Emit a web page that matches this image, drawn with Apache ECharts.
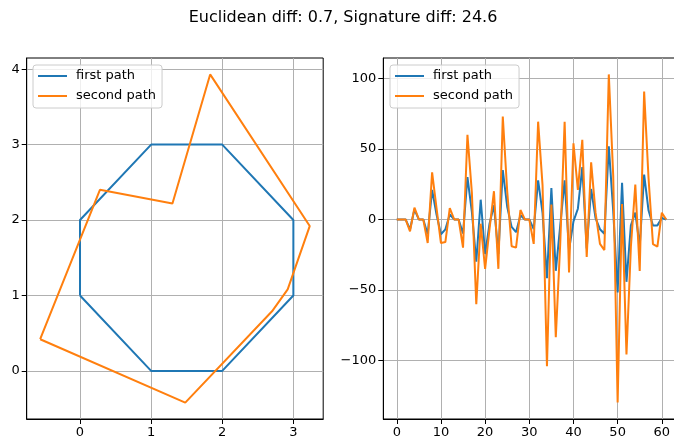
<!DOCTYPE html>
<html>
<head>
<meta charset="utf-8">
<script src="https://cdn.jsdelivr.net/npm/echarts@6/dist/echarts.min.js"></script>
<style>
  html, body { margin: 0; padding: 0; background: #ffffff; }
  #chart { width: 674px; height: 440px; }
</style>
</head>
<body>
<div id="chart"></div>
<script>
// Two closed planar paths: a regular octagon and a perturbed copy of it.
const firstPathX  = [0, 0, 1, 2, 3, 3, 2, 1, 0];
const firstPathY  = [1, 2, 3, 3, 2, 1, 0, 0, 1];
const secondPathX = [-0.56, 0.28, 1.30, 1.83, 3.23, 2.92, 2.70, 1.48, -0.56];
const secondPathY = [0.42, 2.40, 2.22, 3.93, 1.92, 1.08, 0.79, -0.42, 0.42];

// Truncated signature terms (levels 1-5) of each path, in word order.
const sigFirst = [
  0, 0, 0, -7, 7, 0,
  0, -10.5, 21, 3.5, -10.5, -7, 3.5, 0,
  0, -10, 30, 5.3, -30, 14, -24.5, -3, 10, -24.5, 35, 9, -5.3, -9, 3, 0,
  0, -6.9, 27.7, 4.7, -41.6, 22.3, -36.4, -4.5, 27.7, -21.6, -1.4, 7.6, 37.1, -20.6, 21.6, 1,
  -6.9, -10.1, 51.8, 6, -51.7, 25.9, -44.2, -4.2, 4.9, -18.9, 31.8, 6.3, -4.3, -4.2, 1, 0
];
const sigSecond = [
  0, 0, 0, -8.4, 8.4, 0,
  0, -16.7, 33.4, 8, -16.7, -16, 8, 0,
  0, -20, 60, 19, -60, -3, -35, -6.7, 20, -35, 73, 20, -19, -20, 6.7, 0,
  0, -17.3, 69.3, 24.3, -104, 10.6, -83.4, -17.3, 69.3, -37.6, 54, 21, 56.5, -26.5, 40.5, 4.8,
  -17.3, -21.7, 102.8, 31, -129.8, 11, -95.7, -19.3, 24.7, -36.5, 90.6, 29, -17.5, -19.3, 4.8, 0
];

const seriesNames = ['first path', 'second path'];
const titleText = 'Euclidean diff: 0.7, Signature diff: 24.6';

const pathXTicks = [0, 1, 2, 3];
const pathYTicks = [0, 1, 2, 3, 4];
const sigXTicks  = [0, 10, 20, 30, 40, 50, 60];
const sigYTicks  = [-100, -50, 0, 50, 100];

const BLUE = '#1f77b4';
const ORANGE = '#ff7f0e';
const FONT = 'DejaVu Sans';

// Legend key: a 2px horizontal stroke centred in a 29x14 box.
const LEGEND_LINE = 'path://M0,0H29V0ZM0,6H29V8H0ZM0,14H29V14Z';

// Data range widened by 5% on each side.
function paddedRange(values) {
  const lo = Math.min.apply(null, values);
  const hi = Math.max.apply(null, values);
  const pad = (hi - lo) * 0.05;
  return [lo - pad, hi + pad];
}

const sigIndex = sigFirst.map((_, i) => i);
const pathXRange = paddedRange(firstPathX.concat(secondPathX));
const pathYRange = paddedRange(firstPathY.concat(secondPathY));
const sigXRange  = paddedRange(sigIndex);
const sigYRange  = paddedRange(sigFirst.concat(sigSecond));

function zip(xs, ys) { return xs.map((x, i) => [x, ys[i]]); }

function axis(gridIndex, range, ticks) {
  return {
    type: 'value',
    gridIndex: gridIndex,
    min: range[0],
    max: range[1],
    axisLine: { show: true, onZero: false, lineStyle: { color: '#000', width: 1 } },
    axisTick: { show: true, inside: false, length: 5, customValues: ticks,
                lineStyle: { color: '#000', width: 1 } },
    axisLabel: { customValues: ticks, color: '#000', fontSize: 13, fontFamily: FONT, margin: 7,
                 formatter: v => String(v).replace('-', '\u2212') },
    splitLine: { show: true, lineStyle: { color: '#b0b0b0', width: 1 } }
  };
}

function legend(left) {
  return {
    data: seriesNames.map(n => ({ name: n, icon: LEGEND_LINE })),
    orient: 'vertical',
    left: left,
    top: 65,
    padding: [4, 6, 5, 5],
    itemWidth: 29,
    itemHeight: 14,
    itemGap: 6,
    symbolKeepAspect: false,
    backgroundColor: 'rgba(255,255,255,0.8)',
    borderColor: '#cccccc',
    borderWidth: 1,
    borderRadius: 3,
    selectedMode: false,
    textStyle: { color: '#000', fontSize: 13, fontFamily: FONT, padding: [0, 0, 0, 4] }
  };
}

function line(name, color, data, idx) {
  return {
    type: 'line',
    name: name,
    xAxisIndex: idx,
    yAxisIndex: idx,
    data: data,
    symbol: 'none',
    clip: true,
    lineStyle: { color: color, width: 2 },
    itemStyle: { color: color },
    animation: false
  };
}

const gridBase = { show: true, borderColor: '#000', borderWidth: 1, containLabel: false,
                   outerBoundsMode: 'none', top: 58, height: 361 };

const chart = echarts.init(document.getElementById('chart'), null, { renderer: 'canvas' });
chart.setOption({
  animation: false,
  backgroundColor: '#ffffff',
  title: {
    text: titleText,
    left: 338,
    top: 5,
    textAlign: 'center',
    textStyle: { color: '#000', fontSize: 16, fontWeight: 'normal', fontFamily: FONT }
  },
  grid: [
    Object.assign({}, gridBase, { left: 26.7, width: 296.5 }),
    Object.assign({}, gridBase, { left: 383.3, width: 296.4 })
  ],
  xAxis: [axis(0, pathXRange, pathXTicks), axis(1, sigXRange, sigXTicks)],
  yAxis: [axis(0, pathYRange, pathYTicks), axis(1, sigYRange, sigYTicks)],
  legend: [legend(33), legend(390)],
  series: [
    line(seriesNames[0], BLUE, zip(firstPathX, firstPathY), 0),
    line(seriesNames[1], ORANGE, zip(secondPathX, secondPathY), 0),
    line(seriesNames[0], BLUE, zip(sigIndex, sigFirst), 1),
    line(seriesNames[1], ORANGE, zip(sigIndex, sigSecond), 1)
  ]
});
</script>
</body>
</html>
